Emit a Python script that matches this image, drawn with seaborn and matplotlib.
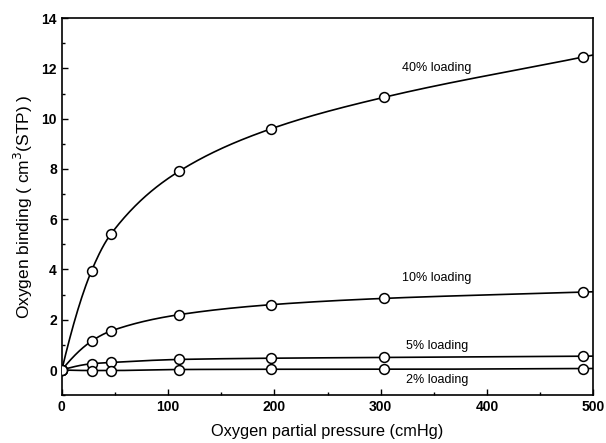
import numpy as np
import pandas as pd
import matplotlib
matplotlib.use("Agg")
import matplotlib.pyplot as plt
import seaborn as sns
from matplotlib.ticker import MultipleLocator

pressure = [0, 28, 46, 110, 197, 303, 490]
load_40 = [0, 3.95, 5.4, 7.9, 9.6, 10.85, 12.45]
load_10 = [0, 1.15, 1.55, 2.2, 2.6, 2.85, 3.1]
load_5 = [0, 0.25, 0.3, 0.42, 0.47, 0.5, 0.55]
load_2 = [0, -0.02, -0.02, 0.02, 0.03, 0.03, 0.06]
series_names = ["40% loading", "10% loading", "5% loading", "2% loading"]
label_pos = [(353, 12.0), (353, 3.65), (353, 0.95), (353, -0.4)]

sns.set_theme(style="ticks")
plt.rcParams['font.family'] = ['Liberation Sans', 'DejaVu Sans']
plt.rcParams['text.color'] = 'black'
plt.rcParams['axes.labelcolor'] = 'black'
plt.rcParams['xtick.color'] = 'black'
plt.rcParams['ytick.color'] = 'black'


def pchip(x, y, xs):
    x = np.asarray(x, float); y = np.asarray(y, float)
    h = np.diff(x); d = np.diff(y) / h
    n = len(x); m = np.zeros(n)
    for k in range(1, n - 1):
        if d[k-1] * d[k] > 0:
            w1 = 2 * h[k] + h[k-1]; w2 = h[k] + 2 * h[k-1]
            m[k] = (w1 + w2) / (w1 / d[k-1] + w2 / d[k])
    m[0] = ((2 * h[0] + h[1]) * d[0] - h[0] * d[1]) / (h[0] + h[1])
    if np.sign(m[0]) != np.sign(d[0]):
        m[0] = 0
    m[-1] = d[-1]
    idx = np.clip(np.searchsorted(x, xs) - 1, 0, n - 2)
    t = (xs - x[idx]) / h[idx]
    hh = h[idx]
    h00 = 2*t**3 - 3*t**2 + 1; h10 = t**3 - 2*t**2 + t
    h01 = -2*t**3 + 3*t**2; h11 = t**3 - t**2
    return h00*y[idx] + h10*hh*m[idx] + h01*y[idx+1] + h11*hh*m[idx+1]


fig = plt.figure(figsize=(6.06, 4.43), dpi=100)
ax = fig.add_axes([0.102, 0.108, 0.877, 0.851])

xs = np.linspace(0, 500, 400)
for name, vals in zip(series_names, [load_40, load_10, load_5, load_2]):
    ys = pchip(pressure, vals, xs)
    sns.lineplot(x=xs, y=ys, ax=ax, color="black", lw=1.2)
    sns.scatterplot(x=pressure, y=vals, ax=ax, s=50, marker="o",
                    facecolor="white", edgecolor="black", linewidth=1.1, zorder=5)

for name, (px, py) in zip(series_names, label_pos):
    ax.text(px, py, name, ha="center", va="center", fontsize=9, color="black")

ax.set_xlim(0, 500)
ax.set_ylim(-1, 14)
ax.xaxis.set_major_locator(MultipleLocator(100))
ax.xaxis.set_minor_locator(MultipleLocator(50))
ax.yaxis.set_major_locator(MultipleLocator(2))
ax.yaxis.set_minor_locator(MultipleLocator(1))
ax.tick_params(which="both", direction="in", top=False, right=False,
               labelsize=10, width=1, colors="black")
ax.tick_params(which="major", length=4)
ax.tick_params(which="minor", length=2.5)
for lab in ax.get_xticklabels() + ax.get_yticklabels():
    lab.set_fontweight("bold")
for sp in ax.spines.values():
    sp.set_linewidth(1.2)
    sp.set_color("black")

ax.set_xlabel("Oxygen partial pressure (cmHg)", fontsize=11.8, labelpad=7)
ax.set_ylabel("Oxygen binding ( cm$^3$(STP) )", fontsize=12.5, labelpad=5)

fig.savefig("out.png", dpi=100)
